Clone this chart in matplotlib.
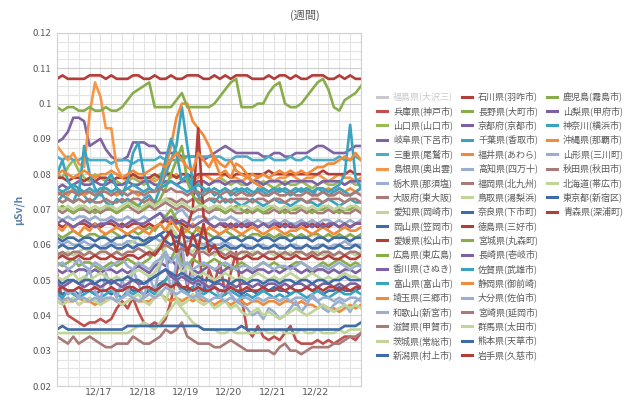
import matplotlib
matplotlib.use("Agg")
import matplotlib.pyplot as plt
from matplotlib.lines import Line2D

plt.rcParams["font.family"] = ["Noto Sans CJK JP", "DejaVu Sans"]

# 3-hourly readings from 12/16 01:00, in 0.001 uSv/h
hours = list(range(0, 169, 3))
day_labels = ["12/17", "12/18", "12/19", "12/20", "12/21", "12/22"]
day_hours = [23, 47, 71, 95, 119, 143]

fukushima = []  # hidden series (legend only)
hyogo = [52,44,40,39,38,37,38,38,39,38,39,42,44,42,45,41,38,37,38,37,39,44,52,58,48,55,60,47,53,49,
         55,46,52,58,45,36,34,37,34,33,34,33,35,37,33,32,32,32,33,32,33,32,33,34,34,33,35]
yamaguchi = [80,79,82,84,81,79,78,80,79,78,79,78,77,78,79,78,77,78,79,80,81,80,79,80,80,78,77,78,77,78,
             79,78,77,78,77,77,78,77,78,77,76,77,78,77,77,78,77,76,77,78,77,77,78,77,78,77,77]
gifu = [89,90,92,96,96,95,88,89,90,87,85,84,84,85,89,89,89,88,88,86,86,86,86,85,85,85,85,84,85,86,
        87,88,87,86,86,86,86,86,85,85,86,86,85,85,86,86,86,87,88,88,87,86,86,86,87,88,88]
mie = [85,84,85,84,84,85,84,84,84,84,83,84,84,84,83,84,84,84,84,85,84,84,84,84,85,85,85,85,85,85,
       85,84,84,85,85,85,84,84,84,85,84,84,84,85,84,84,85,84,84,84,84,84,85,84,84,85,84]
shimane = [88,86,84,86,83,82,97,106,102,93,93,82,79,78,80,79,78,79,78,79,80,79,80,78,79,78,79,80,79,78,
           79,80,79,79,78,79,78,79,80,79,78,79,79,80,79,78,79,79,80,79,78,79,80,79,79,78,79]
tochigi = [68,67,68,67,68,68,67,68,67,67,68,67,67,68,67,67,68,67,68,69,68,67,69,70,68,67,68,68,67,68,
           67,67,68,67,66,67,66,67,66,66,67,66,67,66,66,67,66,67,66,67,67,66,67,66,67,66,67]
osaka = [34,33,32,34,32,33,34,33,32,31,31,32,32,32,34,33,32,32,33,34,36,35,36,38,34,33,32,32,32,31,
         31,32,33,32,31,30,30,30,30,30,29,31,32,30,30,29,30,31,31,31,31,32,32,33,34,34,35]
aichi = [35,35,35,35,35,35,35,35,35,35,35,35,35,35,36,37,38,37,36,38,40,42,44,42,40,38,37,36,36,36,
         35,35,36,35,35,35,35,35,36,35,35,36,35,35,35,36,35,35,36,35,35,35,36,35,36,36,36]
okayama = [36,37,36,36,36,36,36,36,36,36,36,36,36,37,37,37,37,37,37,37,37,37,37,37,37,37,37,36,36,36,
           36,36,36,36,37,36,36,36,36,36,36,36,36,36,36,36,36,36,36,36,36,36,36,37,37,37,38]
ehime = [79,79,78,79,79,78,79,78,79,79,78,79,79,79,80,79,79,79,80,79,80,80,79,80,80,79,80,80,80,80,
         80,80,79,80,80,80,80,80,80,81,80,80,80,80,80,80,80,80,80,81,80,80,80,80,81,80,80]
hiroshima = [55,54,55,56,54,55,55,54,53,54,55,54,55,56,55,54,55,56,58,60,57,56,59,55,54,56,55,54,55,56,
             55,54,53,54,55,54,53,54,55,54,55,54,53,54,55,55,54,53,54,55,54,55,56,55,54,55,54]
kagawa = [76,77,76,77,78,77,77,78,77,77,78,77,77,78,77,77,78,78,77,77,78,78,77,78,78,77,78,78,77,78,
          78,77,78,78,78,77,78,78,77,78,78,78,77,78,78,78,78,78,77,78,78,78,78,77,78,78,78]
toyama = [72,74,73,72,76,74,72,73,75,72,71,73,72,73,72,71,73,74,72,76,80,84,88,99,88,78,74,72,73,72,
          74,72,73,72,71,72,73,72,71,72,73,72,72,71,72,73,72,72,71,72,73,72,71,72,73,72,72]
saitama = [47,45,44,44,45,44,44,43,44,44,45,44,43,44,45,44,44,44,45,46,45,44,45,44,45,44,45,44,44,43,
           44,44,43,44,44,43,44,44,43,44,44,43,44,44,43,44,43,43,42,43,42,42,41,42,43,42,43]
wakayama = [61,60,61,60,60,61,60,60,59,60,61,60,60,61,61,60,60,61,62,61,62,63,61,60,61,62,61,60,61,60,
            60,61,60,59,60,60,59,60,60,59,60,60,59,60,60,59,60,59,60,60,59,60,60,61,60,60,60]
shiga = [73,72,73,72,73,72,73,72,72,73,72,72,73,72,73,73,72,73,72,72,73,73,72,73,72,73,73,72,73,73,
         72,73,72,73,73,73,72,73,73,72,73,73,72,73,73,73,72,73,73,72,73,73,73,72,73,73,72]
ibaraki = [58,57,58,57,58,59,58,57,58,58,57,58,59,60,61,62,60,59,58,60,62,65,63,60,59,58,60,59,58,57,
           58,59,58,57,58,57,58,58,57,58,57,58,57,58,57,58,57,58,58,57,58,57,58,57,58,57,58]
niigata = [47,46,47,47,46,47,47,46,47,47,46,47,47,48,47,47,46,47,48,49,50,52,50,48,47,48,49,48,47,48,
           47,47,48,47,46,47,47,46,47,47,48,47,47,46,47,47,48,47,47,46,47,47,48,47,47,47,48]
ishikawa = [107,108,107,107,107,107,108,108,108,107,108,107,107,107,108,108,107,107,108,107,
            107,108,107,107,108,108,108,107,107,108,107,108,107,108,108,108,107,107,107,108,
            107,108,108,107,108,107,107,108,108,108,107,107,108,107,108,107,107]
nagano = [63,62,63,64,63,62,63,63,62,63,64,63,62,63,64,63,64,65,64,66,68,70,67,65,64,63,65,64,63,62,
          63,64,63,62,63,62,63,63,62,63,62,63,62,63,62,63,62,63,63,62,63,62,63,62,63,62,63]
kyoto = [53,52,53,52,53,53,52,53,52,53,53,52,53,52,53,54,53,52,54,55,54,56,54,53,54,53,52,53,54,53,
         52,53,54,53,52,53,52,53,53,52,53,52,53,54,53,52,53,52,53,53,52,53,52,53,53,52,53]
chiba = [46,45,47,46,45,46,47,46,45,46,47,46,45,47,46,47,48,47,46,48,50,52,49,47,46,48,47,46,47,46,
         45,46,47,46,45,46,45,46,47,46,45,46,45,46,47,46,45,46,47,46,45,46,47,46,46,47,46]
fukui = [74,75,74,76,75,74,75,74,75,76,75,74,75,76,75,74,75,76,75,77,82,88,96,100,100,95,93,91,88,84,
         80,81,79,83,82,80,78,77,76,75,76,75,76,75,76,75,76,75,74,75,76,75,76,75,76,75,76]
kochi = [50,48,46,47,45,50,53,47,44,52,48,45,50,46,53,49,45,51,47,54,58,46,55,60,49,52,44,50,47,49,
         45,48,46,44,43,42,40,41,39,42,41,39,40,42,44,41,43,46,44,42,41,43,44,43,41,44,45]
fukuoka = [70,69,70,69,70,70,69,70,69,70,70,69,70,71,70,69,70,71,70,71,72,71,70,71,70,69,70,70,69,70,
           70,69,70,69,69,70,69,70,69,69,70,69,70,69,69,70,69,70,69,69,70,69,70,69,69,70,69]
tottori = [51,50,51,52,50,51,50,51,52,51,50,51,50,51,52,53,52,51,52,55,60,66,58,52,54,52,51,52,51,50,
           51,52,51,50,51,50,51,52,51,50,51,50,51,52,51,50,51,52,51,50,51,50,51,52,51,51,50]
nara = [62,61,62,62,61,62,62,61,62,62,61,62,62,63,62,62,61,62,62,63,64,63,62,63,62,62,63,62,61,62,
        62,61,62,62,61,62,62,61,62,62,61,62,62,61,62,62,62,61,62,62,61,62,62,62,61,62,62]
tokushima = [66,65,66,65,66,66,65,66,65,66,66,65,66,65,66,66,65,66,65,66,67,66,67,66,65,70,93,68,66,65,
             66,65,66,65,66,65,66,65,66,65,66,65,66,65,65,66,65,66,65,66,65,66,65,66,65,66,66]
miyagi = [70,71,70,69,70,71,70,69,70,71,70,69,70,71,72,71,70,72,71,73,76,80,84,88,78,74,72,71,70,71,
          70,69,70,71,70,69,70,70,69,70,71,70,69,70,70,71,70,69,70,70,71,70,69,70,70,71,70]
nagasaki = [49,48,49,50,49,48,49,49,48,49,50,49,48,49,50,49,49,50,51,52,53,51,50,51,50,49,50,49,48,49,
            49,48,49,48,49,49,48,49,48,49,49,48,49,48,49,49,48,49,48,49,49,48,49,48,49,49,48]
saga = [76,75,76,77,76,75,76,75,76,76,75,76,75,76,77,76,75,76,75,76,77,78,77,76,75,76,77,76,75,76,
        75,76,75,76,75,76,75,75,76,75,76,75,76,75,76,75,76,75,76,76,75,76,77,80,94,79,76]
shizuoka = [65,64,66,64,63,65,64,66,64,63,64,65,64,63,64,65,64,63,65,66,64,67,65,63,64,66,64,63,65,64,
            63,64,65,64,63,64,65,64,63,64,65,64,63,64,64,65,64,63,64,65,64,63,64,65,64,64,65]
oita = [54,55,53,54,56,54,53,55,54,53,54,55,56,54,53,55,54,53,55,56,58,55,57,54,55,53,54,55,54,53,
        54,55,54,53,54,54,53,54,55,54,53,54,54,53,54,55,54,53,54,54,53,54,55,54,53,54,54]
miyazaki = [57,58,57,58,58,57,58,57,58,58,57,58,57,58,58,59,58,57,58,59,60,59,58,59,58,57,58,58,57,58,
            58,57,58,57,58,58,57,58,57,58,58,57,58,57,58,58,57,58,57,58,58,57,58,57,58,58,57]
gunma = [44,43,44,45,43,44,45,44,43,44,45,44,43,44,45,46,44,43,45,47,44,48,45,43,44,46,44,43,44,42,
         43,44,42,43,41,40,41,42,40,41,40,39,40,41,42,41,40,41,42,43,42,41,42,43,42,43,42]
kumamoto = [50,49,50,50,49,50,50,49,50,50,49,50,50,51,50,50,49,50,51,52,53,52,51,52,51,50,51,50,50,49,
            50,50,49,50,50,49,50,50,49,50,50,49,50,50,49,50,50,49,50,50,49,50,50,51,50,50,50]
iwate = [47,48,47,47,48,47,47,48,47,47,48,47,47,48,48,47,48,48,47,48,49,48,49,48,48,47,48,47,47,48,
         47,47,48,47,47,48,47,47,48,47,47,48,47,48,47,47,48,47,48,47,48,48,47,48,47,48,48]
kagoshima = [99,98,99,99,98,98,99,98,98,99,98,98,99,101,103,104,105,106,99,99,
             99,99,101,103,99,99,99,99,99,100,102,104,106,107,99,99,99,100,100,103,
             105,106,100,99,99,100,102,104,106,107,104,99,98,101,102,103,105]
yamanashi = [66,67,66,65,66,67,66,65,66,66,67,66,65,66,67,66,66,67,68,69,67,68,66,67,66,65,66,67,66,65,
             66,66,65,66,65,66,66,65,66,65,66,66,65,66,65,66,66,65,66,65,66,66,65,66,65,66,66]
kanagawa = [80,84,78,76,74,88,80,76,74,78,80,76,74,78,86,89,80,76,75,78,84,90,86,78,80,76,74,75,76,74,
            75,76,74,75,76,75,74,76,75,74,75,76,75,74,75,76,75,74,76,75,74,75,76,75,74,75,76]
okinawa = [80,81,80,79,80,81,80,79,80,80,81,80,79,80,81,80,80,81,82,83,82,84,86,84,82,81,86,84,82,85,
           83,82,84,81,80,79,80,79,80,79,80,81,80,81,80,81,80,81,82,82,83,83,84,85,84,86,84]
yamagata = [45,44,45,44,45,45,44,45,44,45,45,44,45,46,45,44,45,46,45,46,48,47,46,47,46,45,46,45,44,45,
            45,44,45,44,45,45,44,45,44,45,45,44,45,44,45,45,44,45,44,45,45,44,45,44,45,45,44]
akita = [75,74,75,75,74,75,75,74,75,75,74,75,75,74,75,75,74,75,75,76,75,76,75,75,74,75,75,74,75,75,
         74,75,75,74,75,74,74,75,74,74,75,74,74,75,74,74,75,74,74,75,74,74,75,74,74,75,74]
hokkaido = [71,70,71,70,71,71,70,71,70,71,71,70,71,72,71,70,71,72,71,72,73,72,71,72,71,70,71,71,70,71,
            71,70,71,70,71,71,70,71,70,71,71,70,71,70,71,71,70,71,70,71,71,70,71,70,71,71,70]
tokyo = [59,60,59,59,60,59,59,60,59,59,60,59,59,60,59,60,60,61,62,63,61,60,61,60,59,60,59,59,60,59,
         59,60,59,59,60,59,59,60,59,59,60,59,59,60,59,59,60,59,59,60,59,59,60,59,59,60,59]
aomori = [56,57,56,56,57,56,56,57,56,56,57,56,56,57,57,56,57,58,57,59,62,64,58,65,57,63,59,66,58,60,
          57,56,57,56,56,57,56,56,57,56,56,57,56,56,57,56,56,57,56,56,57,56,56,57,56,56,57]

series = [
    ("福島県(大沢三)", fukushima), ("兵庫県(神戸市)", hyogo), ("山口県(山口市)", yamaguchi),
    ("岐阜県(下呂市)", gifu), ("三重県(尾鷲市)", mie), ("島根県(奥出雲)", shimane),
    ("栃木県(那須塩)", tochigi), ("大阪府(東大阪)", osaka), ("愛知県(岡崎市)", aichi),
    ("岡山県(笠岡市)", okayama), ("愛媛県(松山市)", ehime), ("広島県(東広島)", hiroshima),
    ("香川県(さぬき)", kagawa), ("富山県(富山市)", toyama), ("埼玉県(三郷市)", saitama),
    ("和歌山(新宮市)", wakayama), ("滋賀県(甲賀市)", shiga), ("茨城県(常総市)", ibaraki),
    ("新潟県(村上市)", niigata),
    ("石川県(羽咋市)", ishikawa), ("長野県(大町市)", nagano), ("京都府(京都市)", kyoto),
    ("千葉県(香取市)", chiba), ("福井県(あわら)", fukui), ("高知県(四万十)", kochi),
    ("福岡県(北九州)", fukuoka), ("鳥取県(湯梨浜)", tottori), ("奈良県(下市町)", nara),
    ("徳島県(三好市)", tokushima), ("宮城県(丸森町)", miyagi), ("長崎県(壱岐市)", nagasaki),
    ("佐賀県(武雄市)", saga), ("静岡県(御前崎)", shizuoka), ("大分県(佐伯市)", oita),
    ("宮崎県(延岡市)", miyazaki), ("群馬県(太田市)", gunma), ("熊本県(天草市)", kumamoto),
    ("岩手県(久慈市)", iwate),
    ("鹿児島(霧島市)", kagoshima), ("山梨県(甲府市)", yamanashi), ("神奈川(横浜市)", kanagawa),
    ("沖縄県(那覇市)", okinawa), ("山形県(三川町)", yamagata), ("秋田県(秋田市)", akita),
    ("北海道(帯広市)", hokkaido), ("東京都(新宿区)", tokyo), ("青森県(深浦町)", aomori),
]

BASE = ["#c9c9c9", "#c0504d", "#9bbb59", "#8064a2", "#4bacc6", "#f79646"]
CYCLE = ["#9aaed0", "#a87a78", "#c0d59a", "#3f6ca6", "#b33d39", "#8aad4c",
         "#7d61a0", "#3aa3bf", "#ef8b3b"]
INK = "#595959"


def color_for(k):
    return BASE[k] if k < 6 else CYCLE[(k - 6) % 9]


fig = plt.figure(figsize=(6.4, 3.97), dpi=100)
W, H = 640.0, 397.0
ax = fig.add_axes([57 / W, 1 - 386 / H, (361 - 57) / W, (386 - 33) / H])

for k, (name, vals) in enumerate(series):
    if not vals:
        continue
    ax.plot(hours, [v / 1000 for v in vals], color=color_for(k), lw=1.9,
            solid_joinstyle="round", zorder=2 + k * 0.01)

ax.set_xlim(0, 168)
ax.set_ylim(0.02, 0.12)
ax.set_yticks([0.02 + 0.01 * i for i in range(11)])
ax.set_yticklabels(["0.02", "0.03", "0.04", "0.05", "0.06", "0.07", "0.08",
                    "0.09", "0.1", "0.11", "0.12"])
ax.set_yticks([0.02 + 0.0025 * i for i in range(41)], minor=True)
ax.set_xticks(day_hours)
ax.set_xticklabels(day_labels, family="DejaVu Sans")
ax.set_xticks(list(range(0, 169, 6)), minor=True)
ax.tick_params(which="both", length=0, labelsize=6.8, colors=INK, pad=4)
ax.tick_params(axis="x", pad=1)
ax.grid(True, which="minor", color="#e4e4e4", lw=0.8, zorder=0)
ax.grid(True, which="major", axis="y", color="#cfcfcf", lw=0.8, zorder=0)
for s in ax.spines.values():
    s.set_color("#d0d0d0")
    s.set_linewidth(0.8)
ax.set_ylabel("μSv/h", color="#5b7fa8", fontsize=7.5, fontweight="bold", labelpad=6)

fig.text(305 / W, 1 - 15 / H, "(週間)", ha="center", va="center", fontsize=8, color=INK)

# legend: three columns (19, 19, 9 rows)
col_x = [377, 462, 547]
for k, (name, vals) in enumerate(series):
    col, row = (0, k) if k < 19 else ((1, k - 19) if k < 38 else (2, k - 38))
    y = 1 - (96.7 + row * 14.36) / H
    x0 = col_x[col] / W
    fig.add_artist(Line2D([x0, x0 + 10 / W], [y, y], transform=fig.transFigure,
                          color=color_for(k), lw=2.2))
    fig.text(x0 + 16 / W, y, name, ha="left", va="center", fontsize=6.5,
             color="#c9c9c9" if not vals else INK)

fig.savefig("out.png", dpi=100)
